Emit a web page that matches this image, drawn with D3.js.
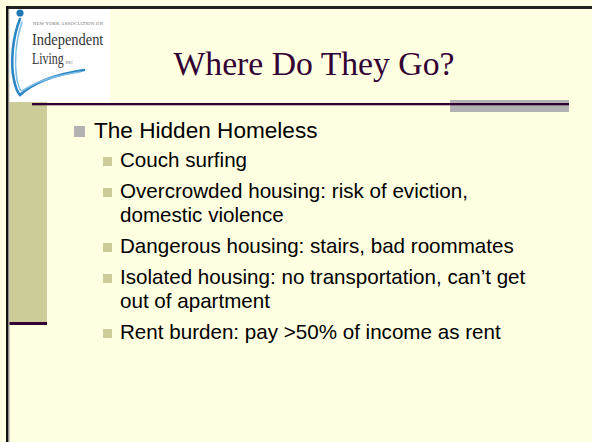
<!DOCTYPE html>
<html>
<head>
<meta charset="utf-8">
<script src="https://cdn.jsdelivr.net/npm/d3@7"></script>
<style>
  body { margin: 0; background: #ffffe1; }
  svg { display: block; }
</style>
</head>
<body>
<div id="slide"></div>
<script>
// slide content
var titleText = "Where Do They Go?";
var topBullet = "The Hidden Homeless";
var subBullets = [
    ["Couch surfing"],
    ["Overcrowded housing: risk of eviction,", "domestic violence"],
    ["Dangerous housing: stairs, bad roommates"],
    ["Isolated housing: no transportation, can\u2019t get", "out of apartment"],
    ["Rent burden: pay >50% of income as rent"]
];
var logoLines = ["NEW YORK ASSOCIATION ON", "Independent", "Living"];

var W = 592, H = 442;
var purple = "#330033", khaki = "#cccc99", grey = "#b2b2b2";

var svg = d3.select("#slide").append("svg")
    .attr("width", W)
    .attr("height", H);

svg.append("rect").attr("width", W).attr("height", H).attr("fill", "#ffffe1");

// frame: top and left rules
svg.append("rect").attr("x", 6).attr("y", 6).attr("width", W - 6).attr("height", 3).attr("fill", "#222");
svg.append("rect").attr("x", 6).attr("y", 6).attr("width", 2.5).attr("height", H - 6).attr("fill", "#111");
svg.append("rect").attr("x", 8.5).attr("y", 9).attr("width", 1).attr("height", H - 9).attr("fill", "#999");

// khaki side column + its bottom rule
svg.append("rect").attr("x", 9.5).attr("y", 102).attr("width", 37.5).attr("height", 220).attr("fill", khaki);
svg.append("rect").attr("x", 9.5).attr("y", 322).attr("width", 37.5).attr("height", 3).attr("fill", purple);

// logo box
var logo = svg.append("g");
logo.append("rect").attr("x", 9.5).attr("y", 9).attr("width", 100.5).attr("height", 93).attr("fill", "#fff");
logo.append("circle").attr("cx", 20).attr("cy", 13).attr("r", 3.6).attr("fill", "#1f78b4");
logo.append("path")
    .attr("d", "M20,19 C13,36 10,62 14,80 C16,90 19,94 20,95 C34,82 58,74 84,70")
    .attr("fill", "none").attr("stroke", "#2a86c4").attr("stroke-width", 2.6)
    .attr("stroke-linecap", "round");
logo.append("path")
    .attr("d", "M22,22 C16,40 14,62 17,80 C19,88 21,91 22,91 C38,80 58,75 80,72")
    .attr("fill", "none").attr("stroke", "#7fbfe6").attr("stroke-width", 1.6)
    .attr("stroke-linecap", "round");
logo.append("text").attr("x", 33).attr("y", 25)
    .attr("font-family", "Liberation Serif").attr("font-size", 4.6).attr("fill", "#666")
    .attr("textLength", 70).text(logoLines[0]);
// logo words are narrow, so squeeze them horizontally
logo.append("text").attr("transform", "translate(32,45) scale(0.85,1)")
    .attr("font-family", "Liberation Serif").attr("font-size", 17).attr("fill", "#333")
    .text(logoLines[1]);
logo.append("text").attr("transform", "translate(32,64) scale(0.7,1)")
    .attr("font-family", "Liberation Serif").attr("font-size", 17).attr("fill", "#333")
    .text(logoLines[2]);
logo.append("text").attr("x", 65.5).attr("y", 64)
    .attr("font-family", "Liberation Serif").attr("font-size", 4.5).attr("fill", "#666").text("INC");

// title
svg.append("text")
    .attr("x", 314).attr("y", 75)
    .attr("text-anchor", "middle")
    .attr("font-family", "Liberation Serif, Times New Roman, serif")
    .attr("font-size", 33.7)
    .attr("fill", purple)
    .text(titleText);

// title rule with grey tab
svg.append("rect").attr("x", 450).attr("y", 100).attr("width", 119).attr("height", 12).attr("fill", grey);
svg.append("rect").attr("x", 32).attr("y", 103).attr("width", 537).attr("height", 2.3).attr("fill", purple);

// bullet layout: baselines accumulate; wrapped lines 24px, new items 31px
var rows = [];
var y = 138;
rows.push({level: 1, text: topBullet, y: y, first: true});
y += 29;
subBullets.forEach(function(item, i) {
    if (i > 0) y += 31;
    item.forEach(function(line, j) {
        if (j > 0) y += 24;
        rows.push({level: 2, text: line, y: y, first: j === 0});
    });
});

var indent = d3.scaleOrdinal().domain([1, 2]).range([94, 120]);
var boxX = d3.scaleOrdinal().domain([1, 2]).range([74, 103]);
var boxSize = d3.scaleOrdinal().domain([1, 2]).range([11, 9]);
var boxFill = d3.scaleOrdinal().domain([1, 2]).range([grey, khaki]);
var fontSize = d3.scaleOrdinal().domain([1, 2]).range([22.6, 20.6]);

var body = svg.append("g");
body.selectAll("rect.bullet")
    .data(rows.filter(function(d) { return d.first; }))
    .enter().append("rect")
    .attr("class", "bullet")
    .attr("x", function(d) { return boxX(d.level); })
    .attr("y", function(d) { return d.y - 1 - boxSize(d.level); })
    .attr("width", function(d) { return boxSize(d.level); })
    .attr("height", function(d) { return boxSize(d.level); })
    .attr("fill", function(d) { return boxFill(d.level); });

body.selectAll("text.line")
    .data(rows)
    .enter().append("text")
    .attr("class", "line")
    .attr("x", function(d) { return indent(d.level); })
    .attr("y", function(d) { return d.y; })
    .attr("font-family", "Liberation Sans, Arial, sans-serif")
    .attr("font-size", function(d) { return fontSize(d.level); })
    .attr("fill", "#000")
    .text(function(d) { return d.text; });
</script>
</body>
</html>
